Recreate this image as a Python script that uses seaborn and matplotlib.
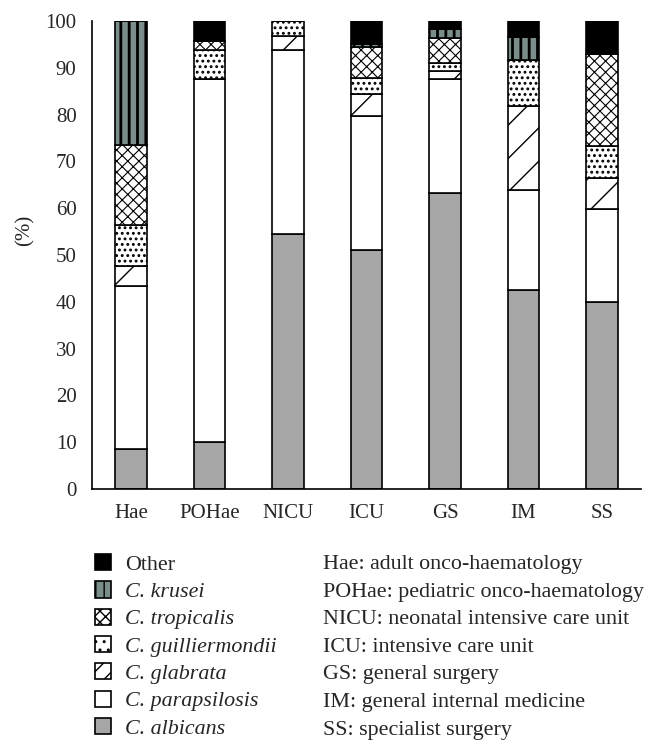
import numpy as np
import pandas as pd
import matplotlib
matplotlib.use('Agg')
import matplotlib.pyplot as plt
import seaborn as sns
from matplotlib.patches import Patch

# Data (percent of isolates per ward)
wards = ['Hae', 'POHae', 'NICU', 'ICU', 'GS', 'IM', 'SS']
albicans = [8.6, 10.1, 54.4, 51.1, 63.2, 42.6, 40.0]
parapsilosis = [34.8, 77.5, 39.5, 28.5, 24.5, 21.2, 19.9]
glabrata = [4.3, 0.0, 2.9, 4.9, 1.6, 18.1, 6.6]
guilliermondii = [8.6, 6.3, 3.2, 3.4, 1.8, 9.8, 6.8]
tropicalis = [17.3, 1.8, 0.0, 6.6, 5.3, 0.0, 19.7]
krusei = [26.4, 0.0, 0.0, 0.6, 1.8, 4.8, 0.0]
other = [0.0, 4.3, 0.0, 4.9, 1.8, 3.5, 7.0]

species = ['C. albicans', 'C. parapsilosis', 'C. glabrata', 'C. guilliermondii',
           'C. tropicalis', 'C. krusei', 'Other']
ward_names = ['Hae: adult onco-haematology',
              'POHae: pediatric onco-haematology',
              'NICU: neonatal intensive care unit',
              'ICU: intensive care unit',
              'GS: general surgery',
              'IM: general internal medicine',
              'SS: specialist surgery']

df = pd.DataFrame({'ward': wards, 'C. albicans': albicans, 'C. parapsilosis': parapsilosis,
                   'C. glabrata': glabrata, 'C. guilliermondii': guilliermondii,
                   'C. tropicalis': tropicalis, 'C. krusei': krusei, 'Other': other})

styles = {
    'C. albicans': dict(color='#a6a6a6', hatch=None, hlw=1.0),
    'C. parapsilosis': dict(color='white', hatch=None, hlw=1.0),
    'C. glabrata': dict(color='white', hatch='/', hlw=1.0),
    'C. guilliermondii': dict(color='white', hatch='...', hlw=1.3),
    'C. tropicalis': dict(color='white', hatch='xxx', hlw=0.8),
    'C. krusei': dict(color='#7b8d8b', hatch='||', hlw=2.0),
    'Other': dict(color='black', hatch=None, hlw=1.0),
}

sns.set_style('white')
plt.rcParams['font.family'] = ['Liberation Serif', 'DejaVu Serif']
plt.rcParams['hatch.linewidth'] = 1.0
plt.rcParams['hatch.color'] = 'black'

fig = plt.figure(figsize=(6.61, 7.54), dpi=100)
ax = fig.add_axes([0.139, 0.3515, 0.831, 0.6207])

bottom = np.zeros(len(wards))
for sp in species:
    st = styles[sp]
    n_before = len(ax.patches)
    sns.barplot(data=df, x='ward', y=sp, order=wards, color=st['color'], saturation=1,
                width=0.4, bottom=bottom, edgecolor='black', linewidth=1.2,
                hatch=st['hatch'], ax=ax)
    for p in ax.patches[n_before:]:
        if hasattr(p, 'set_hatch_linewidth'):
            p.set_hatch_linewidth(st['hlw'])
    bottom = bottom + df[sp].values

ax.set_xlim(-0.5, 6.5)
ax.set_ylim(0, 100)
ax.set_yticks(range(0, 101, 10))
ax.set_xticks(np.arange(-0.5, 7, 1), minor=True)
ax.tick_params(axis='x', which='major', length=0, pad=11, labelsize=15)
ax.tick_params(axis='x', which='minor', length=5, width=1, direction='out', color='black')
ax.tick_params(axis='y', length=5, width=1, direction='out', color='black', pad=6, labelsize=15)
ax.set_xlabel('')
ax.set_ylabel('(%)', fontsize=15)
ax.yaxis.set_label_coords(-0.104, 0.553)
for s in ['top', 'right']:
    ax.spines[s].set_visible(False)
for s in ['left', 'bottom']:
    ax.spines[s].set_color('black')
    ax.spines[s].set_linewidth(1.2)

leg_hatch = {'C. glabrata': '//', 'C. guilliermondii': '..', 'C. tropicalis': 'xxx', 'C. krusei': '||'}
handles = []
for sp in species[::-1]:
    h = Patch(facecolor=styles[sp]['color'], edgecolor='black',
              hatch=leg_hatch.get(sp, styles[sp]['hatch']), linewidth=1.2)
    if hasattr(h, 'set_hatch_linewidth'):
        h.set_hatch_linewidth(styles[sp]['hlw'])
    handles.append(h)
leg = fig.legend(handles, species[::-1], loc='upper left', bbox_to_anchor=(0.143, 0.265),
                 frameon=False, fontsize=15.8, handlelength=0.75, handleheight=0.75,
                 handletextpad=0.65, labelspacing=0.3, borderaxespad=0, borderpad=0)
for t in leg.get_texts():
    if t.get_text() != 'Other':
        t.set_fontstyle('italic')

for i, name in enumerate(ward_names):
    fig.text(323 / 661, 1 - (565 + 27.5 * i) / 754, name, fontsize=15.8, va='center', ha='left')

fig.savefig('out.png', dpi=100)
